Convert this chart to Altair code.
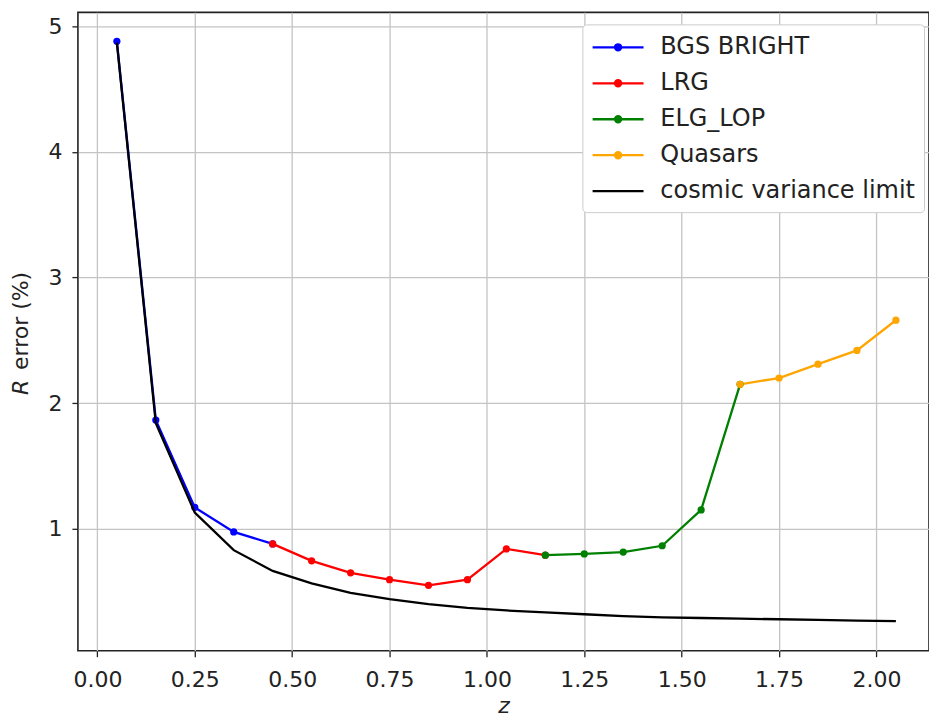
import altair as alt
import pandas as pd

bgs_z = [0.05, 0.15, 0.25, 0.35, 0.45]
bgs_r = [4.88, 1.865, 1.17, 0.975, 0.88]
lrg_z = [0.45, 0.55, 0.65, 0.75, 0.85, 0.95, 1.05, 1.15]
lrg_r = [0.88, 0.745, 0.65, 0.595, 0.55, 0.595, 0.84, 0.79]
elg_z = [1.15, 1.25, 1.35, 1.45, 1.55, 1.65]
elg_r = [0.79, 0.80, 0.815, 0.865, 1.15, 2.15]
qso_z = [1.65, 1.75, 1.85, 1.95, 2.05]
qso_r = [2.15, 2.20, 2.31, 2.42, 2.66]
cv_z = [0.05, 0.15, 0.25, 0.35, 0.45, 0.55, 0.65, 0.75, 0.85, 0.95, 1.05,
        1.15, 1.25, 1.35, 1.45, 1.55, 1.65, 1.75, 1.85, 1.95, 2.05]
cv_r = [4.87, 1.84, 1.13, 0.83, 0.665, 0.565, 0.49, 0.44, 0.40, 0.37, 0.35,
        0.335, 0.32, 0.305, 0.295, 0.29, 0.285, 0.28, 0.275, 0.27, 0.265]

names = ["BGS BRIGHT", "LRG", "ELG_LOP", "Quasars", "cosmic variance limit"]
colors = ["#0000ff", "#ff0000", "#008000", "#ffa500", "#000000"]
x_ticks = [0.0, 0.25, 0.5, 0.75, 1.0, 1.25, 1.5, 1.75, 2.0]
y_ticks = [1, 2, 3, 4, 5]

rows = []
for name, zs, rs in [(names[0], bgs_z, bgs_r), (names[1], lrg_z, lrg_r),
                     (names[2], elg_z, elg_r), (names[3], qso_z, qso_r),
                     (names[4], cv_z, cv_r)]:
    for i, (z, r) in enumerate(zip(zs, rs)):
        rows.append({"z": z, "R": r, "series": name, "order": i})
df = pd.DataFrame(rows)

FONT = "DejaVu Sans"
FS = 22
LFS = 24

xscale = alt.Scale(domain=[-0.05, 2.135], nice=False, zero=False)
yscale = alt.Scale(domain=[0.03, 5.11], nice=False, zero=False)

xenc = alt.X("z:Q", scale=xscale,
             axis=alt.Axis(values=x_ticks, format=".2f", title="z",
                           titleFontStyle="italic", titleFont=FONT,
                           titleFontSize=FS, titleFontWeight="normal",
                           titleColor="#222222", titlePadding=5))
yenc = alt.Y("R:Q", scale=yscale,
             axis=alt.Axis(values=y_ticks, format="d", title=None))

dot_path = ("M-1,0H3"
            "M1.24,0A0.24,0.24 0 1 1 0.76,0A0.24,0.24 0 1 1 1.24,0"
            "M1.1,0A0.1,0.1 0 1 1 0.9,0A0.1,0.1 0 1 1 1.1,0")
line_path = "M-1,0H3"
shapes = [dot_path, dot_path, dot_path, dot_path, line_path]

base = alt.Chart(df)

tracers = base.transform_filter(alt.datum.series != names[4])
tracer_scale = alt.Scale(domain=names[:4], range=colors[:4])

lines = tracers.mark_line(strokeWidth=2.3).encode(
    x=xenc, y=yenc,
    stroke=alt.Stroke("series:N", scale=tracer_scale, legend=None),
    detail="series:N",
    order="order:Q",
)

dots = tracers.mark_circle(size=52, opacity=1).encode(
    x=xenc, y=yenc,
    fill=alt.Fill("series:N", scale=tracer_scale, legend=None),
)

cv = base.transform_filter(alt.datum.series == names[4]).mark_line(
    strokeWidth=2.3, color="#000000").encode(
    x=xenc, y=yenc, order="order:Q")

legend_layer = base.transform_filter("datum.z < -10").mark_point(
    filled=False, strokeWidth=2.3, opacity=1).encode(
    x=xenc, y=yenc,
    color=alt.Color("series:N", scale=alt.Scale(domain=names, range=colors),
                    legend=alt.Legend(title=None, orient="none",
                                      legendX=505, legendY=12,
                                      symbolStrokeWidth=2.3, symbolOpacity=1,
                                      symbolSize=650, symbolFillColor="transparent",
                                      labelFont=FONT, labelFontSize=LFS,
                                      labelColor="#222222", labelOffset=41,
                                      rowPadding=10, padding=9,
                                      fillColor="white", strokeColor="#cccccc",
                                      cornerRadius=4, labelLimit=400,
                                      offset=0)),
    shape=alt.Shape("series:N", scale=alt.Scale(domain=names, range=shapes)),
)

ytitle_r = alt.Chart(pd.DataFrame({"t": ["R"]})).mark_text(
    angle=270, font=FONT, fontSize=FS, fontStyle="italic", color="#222222",
    align="left", baseline="middle").encode(
    x=alt.value(-57), y=alt.value(383), text="t:N")
ytitle_rest = alt.Chart(pd.DataFrame({"t": ["error (%)"]})).mark_text(
    angle=270, font=FONT, fontSize=FS, color="#222222",
    align="left", baseline="middle").encode(
    x=alt.value(-57), y=alt.value(358), text="t:N")

chart = alt.layer(lines, dots, cv, legend_layer, ytitle_r, ytitle_rest).properties(
    width=852, height=639,
    autosize=alt.AutoSizeParams(type="none"),
    padding={"left": 78, "top": 12, "right": 0, "bottom": 67},
    background="white",
).configure_axis(
    labelFont=FONT, labelFontSize=FS, labelColor="#222222",
    grid=True, gridColor="#c4c4c4", gridWidth=1.3,
    domain=False, tickColor="#222222", tickSize=6, tickWidth=1.3,
).configure_axisX(
    labelPadding=13,
).configure_axisY(
    labelPadding=10,
).configure_view(
    stroke="#222222", strokeWidth=1.6,
)

chart.save("out.html", embed_options={"renderer": "svg", "actions": False})
